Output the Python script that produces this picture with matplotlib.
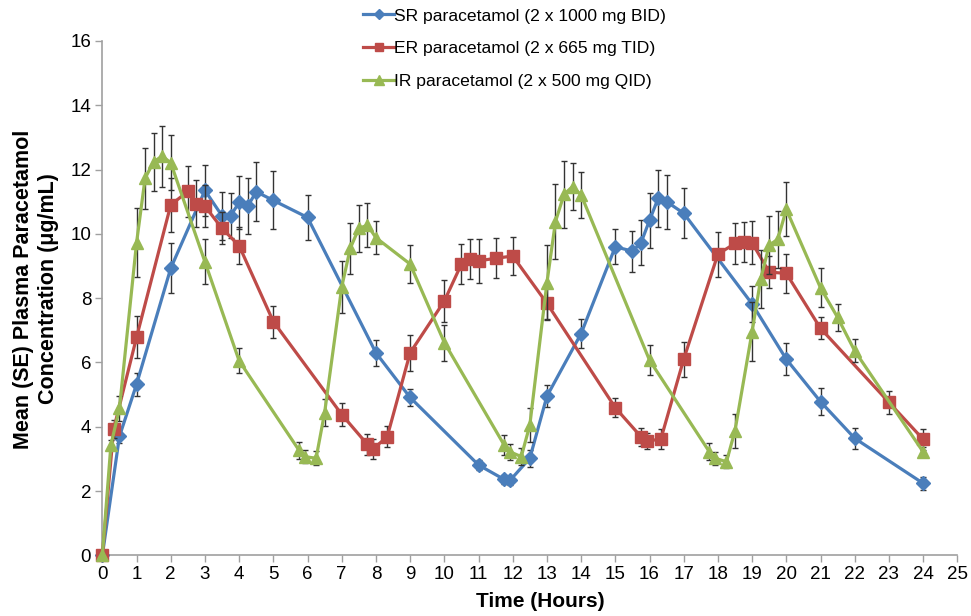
import matplotlib
matplotlib.use("Agg")
import matplotlib.pyplot as plt
from matplotlib.lines import Line2D

plt.rcParams['font.family'] = ['Liberation Sans', 'DejaVu Sans']

# ---- data ----
t_sr = [0, 0.5, 1, 2, 3, 3.5, 3.75, 4, 4.25, 4.5, 5, 6, 8, 9, 11, 11.75, 11.92, 12.5, 13, 14,
        15, 15.5, 15.75, 16, 16.25, 16.5, 17, 19, 20, 21, 22, 24]
sr = [0, 3.7, 5.32, 8.93, 11.35, 10.56, 10.56, 10.98, 10.86, 11.31, 11.04, 10.51, 6.30, 4.91, 2.81,
      2.36, 2.33, 3.02, 4.95, 6.9, 9.6, 9.46, 9.72, 10.42, 11.1, 11.0, 10.64, 7.82, 6.1, 4.78, 3.64, 2.24]
sr_se = [0, 0.2, 0.35, 0.78, 0.8, 0.75, 0.7, 0.82, 0.88, 0.92, 0.9, 0.7, 0.4, 0.27, 0.17,
         0.15, 0.15, 0.27, 0.35, 0.45, 0.55, 0.64, 0.7, 0.85, 0.9, 0.84, 0.78, 0.57, 0.49, 0.41, 0.33, 0.2]

t_er = [0, 0.33, 1, 2, 2.5, 2.75, 3, 3.5, 4, 5, 7, 7.75, 7.92, 8.33, 9, 10, 10.5, 10.75, 11, 11.5,
        12, 13, 15, 15.75, 15.92, 16.33, 17, 18, 18.5, 18.75, 19, 19.5, 20, 21, 23, 24]
er = [0, 3.92, 6.78, 10.9, 11.32, 10.94, 10.86, 10.17, 9.63, 7.27, 4.38, 3.45, 3.31, 3.69, 6.30,
      7.91, 9.06, 9.22, 9.16, 9.24, 9.31, 7.84, 4.59, 3.69, 3.56, 3.61, 6.1, 9.37, 9.7, 9.74,
      9.72, 8.81, 8.77, 7.06, 4.76, 3.61]
er_se = [0, 0.28, 0.65, 0.84, 0.79, 0.73, 0.65, 0.5, 0.57, 0.5, 0.37, 0.33, 0.3, 0.32, 0.56,
         0.65, 0.63, 0.61, 0.68, 0.62, 0.6, 0.5, 0.29, 0.28, 0.25, 0.31, 0.55, 0.7, 0.63, 0.63,
         0.67, 0.51, 0.6, 0.34, 0.36, 0.32]

t_ir = [0, 0.25, 0.5, 1, 1.25, 1.5, 1.75, 2, 3, 4, 5.75, 5.92, 6.25, 6.5, 7, 7.25, 7.5, 7.75, 8, 9,
        10, 11.75, 11.92, 12.25, 12.5, 13, 13.25, 13.5, 13.75, 14, 16, 17.75, 17.92, 18.25, 18.5,
        19, 19.25, 19.5, 19.75, 20, 21, 21.5, 22, 24]
ir = [0, 3.43, 4.57, 9.72, 11.73, 12.24, 12.42, 12.21, 9.13, 6.05, 3.27, 3.07, 3.02, 4.44, 8.35,
      9.55, 10.17, 10.27, 9.88, 9.06, 6.62, 3.43, 3.22, 3.07, 4.05, 8.48, 10.38, 11.23, 11.47, 11.21,
      6.07, 3.22, 3.02, 2.91, 3.88, 6.96, 8.59, 9.65, 9.83, 10.76, 8.32, 7.4, 6.36, 3.22]
ir_se = [0, 0.15, 0.4, 1.07, 0.95, 0.9, 0.95, 0.85, 0.7, 0.39, 0.26, 0.2, 0.22, 0.41, 0.81,
         0.8, 0.73, 0.68, 0.51, 0.6, 0.56, 0.31, 0.25, 0.26, 0.53, 1.17, 1.16, 1.05, 0.73, 0.71,
         0.47, 0.26, 0.2, 0.2, 0.53, 0.93, 0.9, 0.91, 0.89, 0.84, 0.61, 0.41, 0.36, 0.15]

labels = ["SR paracetamol (2 x 1000 mg BID)",
          "ER paracetamol (2 x 665 mg TID)",
          "IR paracetamol (2 x 500 mg QID)"]
x_ticks = list(range(0, 26))
y_ticks = list(range(0, 17, 2))

colors = ["#4A7EBB", "#BE4B48", "#98B954"]
markers = ["D", "s", "^"]
msizes = [7, 8.2, 8.8]

fig = plt.figure(figsize=(9.71, 6.16), dpi=100)
ax = fig.add_axes([0.1054, 0.0985, 0.8805, 0.835])

series = [(t_sr, sr, sr_se), (t_er, er, er_se), (t_ir, ir, ir_se)]
handles = []
for i, (t, y, se) in enumerate(series):
    ax.errorbar(t, y, yerr=se, fmt='none', ecolor='#333333', elinewidth=1.0,
                capsize=2.5, capthick=1.0, zorder=2 + i * 2, clip_on=False)
    ax.plot(t, y, color=colors[i], lw=2.3, marker=markers[i], ms=msizes[i],
            markeredgecolor=colors[i], zorder=3 + i * 2, clip_on=False)
    handles.append(Line2D([], [], color=colors[i], lw=2.3, marker=markers[i],
                          ms=msizes[i] * 0.75, markeredgecolor=colors[i]))

ax.set_xlim(0, 25)
ax.set_ylim(0, 16)
ax.set_xticks(x_ticks)
ax.set_yticks(y_ticks)
ax.tick_params(axis='both', direction='out', length=5, width=1, color='#A0A0A0',
               labelsize=13.5, labelcolor='black', pad=3)
for s in ['top', 'right']:
    ax.spines[s].set_visible(False)
for s in ['left', 'bottom']:
    ax.spines[s].set_color('#A0A0A0')
    ax.spines[s].set_linewidth(1.2)

ax.set_xlabel("Time (Hours)", fontsize=15, fontweight='bold')
ax.xaxis.label.set_va('center')
ax.xaxis.set_label_coords(0.512, -0.089)
ax.set_ylabel("Mean (SE) Plasma Paracetamol\nConcentration (μg/mL)", fontsize=15.5,
              fontweight='bold', linespacing=1.3)
ax.yaxis.label.set_va('center')
ax.yaxis.set_label_coords(-0.0775, 0.518)

fig.legend(handles, labels, loc='upper left', bbox_to_anchor=(0.358, 1.012),
           frameon=False, fontsize=12.6, handlelength=1.75, handletextpad=0.02,
           labelspacing=1.0, numpoints=1)

fig.savefig("out.png", dpi=100)
